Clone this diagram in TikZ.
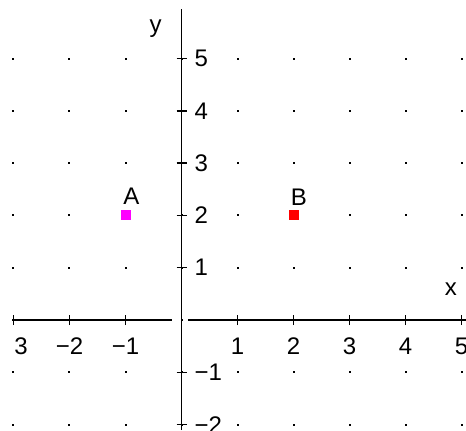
\documentclass[tikz,border=0pt]{standalone}
\usepackage{fontspec}
\setmainfont{Liberation Sans}
\definecolor{ptmag}{RGB}{255,0,255}
\definecolor{ptred}{RGB}{255,0,0}

\begin{document}
\begin{tikzpicture}[x=56pt, y=52.3pt, font=\fontsize{24}{24}\selectfont]
\useasboundingbox (-3.241,-2.103) rectangle (5.080,6.119);
\tikzset{axis/.style={black, line width=1.8pt},
         tck/.style={black, line width=1.4pt},
         lbl/.style={inner sep=0pt},
         pt/.style={rectangle, inner sep=0pt, minimum size=10pt}}
% ---- grid dots
\foreach \i in {-3,...,5} {\foreach \j in {-2,...,5} {\fill[black] (\i,\j) ++(-1pt,-1pt) rectangle ++(2pt,2pt);}}
% ---- axes
\coordinate (xl) at (-3,0);
\coordinate (xg) at (-0.17,0);
\coordinate (xh) at (0.12,0);
\coordinate (xr) at (5.08,0);
\coordinate (yb) at (0,-2.103);
\coordinate (yt) at (0,5.946);
\draw[axis] (xl) -- (xg);
\draw[axis] (xh) -- (xr);
\draw[axis] (yb) -- (yt);
\node[lbl] (xlab) at (4.81,0.593) {x};
\node[lbl] (ylab) at (-0.464,5.564) {y};
% ---- ticks
\foreach \t in {-3,-2,-1,1,2,3,4,5} {\draw[tck] (\t,0) ++(0,-5pt) -- ++(0,10pt);}
\foreach \t in {-2,-1,1,2,3,4,5} {\draw[tck] (0,\t) ++(-5pt,0) -- ++(10pt,0);}
% x labels
\node[lbl, anchor=north west] (xt-3) at (-2.99,-0.344) {3};
\foreach \t/\l in {-2/{−2},-1/{−1},1/1,2/2,3/3,4/4,5/5} {\node[lbl, anchor=north] (xt\t) at (\t,-0.344) {\l};}
% y labels
\foreach \t/\l in {-2/{−2},-1/{−1},1/1,2/2,3/3,4/4,5/5} {\node[lbl, anchor=west] (yt\t) at (0.23,\t) {\l};}
% ---- points
\node[pt, fill=ptmag] (A) at (-1,2) {};
\node[pt, fill=ptred] (B) at (2,2) {};
\node[lbl] (labA) at (-0.893,2.373) {A};
\node[lbl] (labB) at (2.098,2.354) {B};
\end{tikzpicture}
\end{document}
